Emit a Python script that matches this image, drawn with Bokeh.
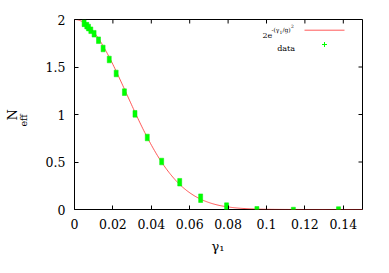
import numpy as np
from bokeh.plotting import figure
from bokeh.models import Range1d, FixedTicker, Label, ColumnDataSource, Title
from bokeh.embed import file_html
from bokeh.resources import INLINE

# ---- data ----
gamma1 = [0.0050, 0.0064, 0.0073, 0.0085, 0.0102, 0.0125, 0.0149, 0.0181, 0.0217,
          0.0260, 0.0315, 0.0379, 0.0454, 0.0548, 0.0657, 0.0792, 0.0950, 0.1140, 0.1375]
neff = [1.960, 1.935, 1.915, 1.887, 1.850, 1.782, 1.695, 1.579, 1.432,
        1.235, 1.007, 0.758, 0.505, 0.287, 0.119, 0.030, 0.006, 0.004, 0.004]
spread = [0.07, 0.07, 0.07, 0.07, 0.07, 0.07, 0.07, 0.07, 0.07,
          0.07, 0.07, 0.07, 0.07, 0.08, 0.09, 0.08, 0.05, 0.04, 0.05]
g_fit = 0.0385          # width parameter of the fitted curve 2e^{-(gamma1/g)^2}
x_ticks = [0, 0.02, 0.04, 0.06, 0.08, 0.10, 0.12, 0.14]
x_tick_labels = ["0", "0.02", "0.04", "0.06", "0.08", "0.1", "0.12", "0.14"]
y_ticks = [0, 0.5, 1.0, 1.5, 2.0]
y_tick_labels = ["0", "0.5", "1", "1.5", "2"]

FONT = "DejaVu Serif"
XMAX, YMAX = 0.15, 2.0

p = figure(width=388, height=265, output_backend="svg", toolbar_location=None,
           x_range=Range1d(0, XMAX), y_range=Range1d(0, YMAX),
           min_border_left=74, min_border_right=26, min_border_top=19, min_border_bottom=56)
p.grid.visible = False
p.outline_line_color = "black"
p.outline_line_width = 1
p.background_fill_color = "white"
p.border_fill_color = "white"

FL, FR, FT, FB = 74, 362, 19, 209
def dx(px):
    return (px - FL) / (FR - FL) * XMAX
def dy(py):
    return (FB - py) / (FB - FT) * YMAX

for ax in (p.xaxis[0], p.yaxis[0]):
    ax.axis_line_color = None
    ax.major_tick_in = 4
    ax.major_tick_out = 0
    ax.minor_tick_line_color = None
    ax.major_tick_line_color = "black"
    ax.axis_label = None
    ax.major_label_text_font = FONT
    ax.major_label_text_font_size = "12.5px"
    ax.major_label_text_color = "black"
    ax.major_label_standoff = 9

p.xaxis.ticker = FixedTicker(ticks=x_ticks)
p.xaxis.major_label_overrides = {t: l for t, l in zip(x_ticks, x_tick_labels)}
p.yaxis.ticker = FixedTicker(ticks=y_ticks)
p.yaxis.major_label_overrides = {t: l for t, l in zip(y_ticks, y_tick_labels)}

# mirrored inward ticks on top and right
p.scatter(x_ticks, [YMAX] * len(x_ticks), marker="dash", angle=np.pi / 2, size=8,
          line_color="black", line_width=1)
p.scatter([XMAX] * len(y_ticks), y_ticks, marker="dash", size=8,
          line_color="black", line_width=1)

# fitted curve
xs = np.linspace(0, XMAX, 300)
p.line(xs, 2 * np.exp(-(xs / g_fit) ** 2), line_color="#ff3030", line_width=1, line_alpha=0.8)

# data points
src = ColumnDataSource(dict(x=gamma1, y=neff, h=spread))
p.rect(x="x", y="y", width=4, width_units="screen", height="h", source=src,
       fill_color="#00ff00", line_color="#00ee00", line_width=0.5)

def lab(px, py, text, size, align="left"):
    p.add_layout(Label(x=dx(px), y=dy(py), text=text, text_font=FONT, text_font_size=size,
                       text_color="black", text_align=align, text_baseline="alphabetic"))

# axis titles as side-panel titles
p.add_layout(Title(text="eff", text_font=FONT, text_font_size="9.5px", align="left",
                   offset=83, standoff=28, text_font_style="normal", text_color="black"), "left")
p.add_layout(Title(text="N", text_font=FONT, text_font_size="13px", align="left",
                   offset=89, standoff=-37, text_font_style="normal", text_color="black"), "left")
p.add_layout(Title(text="γ₁", text_font=FONT, text_font_size="13px", align="left",
                   offset=137, standoff=11, text_font_style="normal", text_color="black"), "below")

# legend
lab(262, 35, "2e", "8px")
lab(271, 29, "-(γ", "6px")
lab(279, 31, "1", "4.5px")
lab(282, 29, "/g)", "6px")
lab(290.5, 25.5, "2", "4.5px")
p.line([dx(304), dx(344)], [dy(29.7), dy(29.7)], line_color="#ff3030", line_width=1, line_alpha=0.8)
lab(294.5, 47.5, "data", "8px", align="right")
p.scatter([dx(324)], [dy(44)], marker="cross", size=5, line_color="#00ff00", line_width=1)

open("out.html", "w").write(file_html(p, INLINE))
